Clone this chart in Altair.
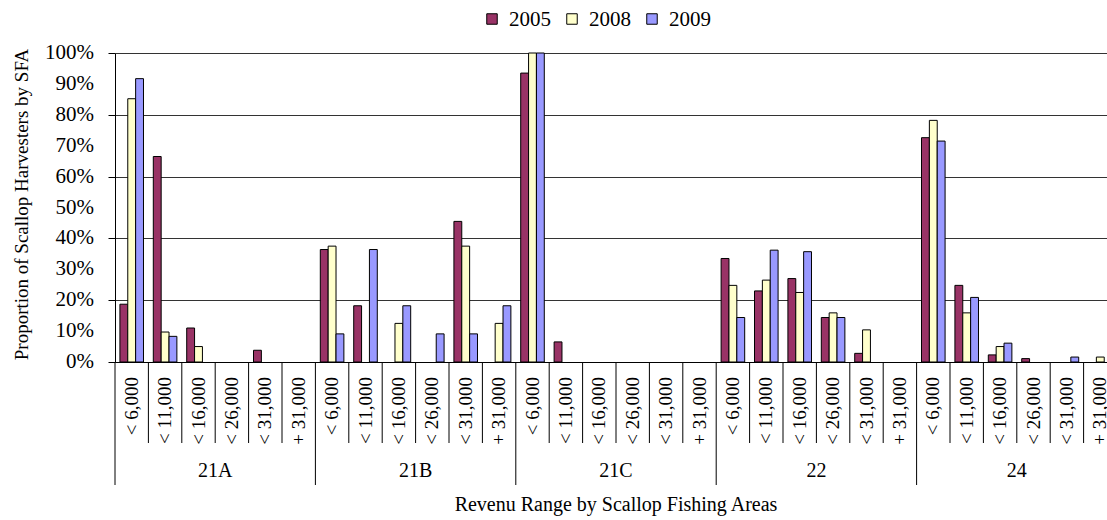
import altair as alt
import pandas as pd

groups = ["21A", "21B", "21C", "22", "24"]
ranges = ["< 6,000", "< 11,000", "< 16,000", "< 26,000", "< 31,000", "+ 31,000"]
years = ["2005", "2008", "2009"]
colors = ["#993366", "#FFFFCC", "#9999FF"]

# percentages per (group, range), group by group
p2005 = [18.7, 66.5, 11.0, 0, 3.8, 0,
         36.4, 18.2, 0, 0, 45.5, 0,
         93.5, 6.5, 0, 0, 0, 0,
         33.5, 23.0, 27.0, 14.4, 2.8, 0,
         72.6, 24.8, 2.3, 1.1, 0, 0]
p2008 = [85.2, 9.7, 5.0, 0, 0, 0,
         37.5, 0, 12.5, 0, 37.5, 12.5,
         100, 0, 0, 0, 0, 0,
         24.8, 26.5, 22.5, 15.9, 10.4, 0,
         78.2, 15.9, 5.0, 0, 0, 1.6]
p2009 = [91.7, 8.3, 0, 0, 0, 0,
         9.1, 36.4, 18.2, 9.1, 9.1, 18.2,
         100, 0, 0, 0, 0, 0,
         14.4, 36.2, 35.7, 14.4, 0, 0,
         71.5, 20.9, 6.1, 0, 1.6, 0]

y_ticks = [0, 0.1, 0.2, 0.3, 0.4, 0.5, 0.6, 0.7, 0.8, 0.9, 1.0]
y_tick_labels = ["0%", "10%", "20%", "30%", "40%", "50%", "60%", "70%", "80%", "90%", "100%"]
x_title = "Revenu Range by Scallop Fishing Areas"
y_title = "Proportion of Scallop Harvesters by SFA"

FONT = "Liberation Serif"
H = 309
W = 992

cats = [f"{g}|{r}" for g in groups for r in ranges]
rows = []
for year, vals in zip(years, [p2005, p2008, p2009]):
    for c, v in zip(cats, vals):
        rows.append({"cat": c, "year": year, "value": v / 100})
bars_df = pd.DataFrame(rows)
cat_df = pd.DataFrame({"cat": cats,
                       "range": [r for g in groups for r in ranges],
                       "start": [i % 6 == 0 for i in range(len(cats))]})
group_df = pd.DataFrame({"cat": [f"{g}|{ranges[3]}" for g in groups], "label": groups})
last_df = pd.DataFrame({"cat": [cats[-1]]})
title_df = pd.DataFrame({"t": [x_title]})
ytick_df = pd.DataFrame({"v": y_ticks, "lab": y_tick_labels})
legend_df = pd.DataFrame({"year": years})

x_scale = alt.Scale(domain=cats, range=[0, 1002], paddingInner=0, paddingOuter=0)
y_scale = alt.Scale(domain=[0, 1])
color_scale = alt.Scale(domain=years, range=colors)

bars = alt.Chart(bars_df).transform_filter("datum.value > 0").mark_bar(
    stroke="black", strokeWidth=1
).encode(
    x=alt.X("cat:N", sort=cats, scale=x_scale,
            axis=alt.Axis(title=None, labels=False, ticks=False,
                          domainColor="black", grid=False)),
    xOffset=alt.XOffset("year:N", sort=years,
                        scale=alt.Scale(domain=years, paddingOuter=0.625, paddingInner=0)),
    y=alt.Y("value:Q", scale=y_scale,
            axis=alt.Axis(values=y_ticks, labels=False, title=y_title,
                          tickSize=7, tickColor="black",
                          domainColor="black", grid=True, gridColor="#333333",
                          titleFont=FONT, titleFontSize=19, titleFontWeight="normal",
                          titleColor="black", titleX=-94, titleY=151,
                          titleAngle=270, titleAlign="center", titleBaseline="middle")),
    color=alt.Color("year:N", sort=years, scale=color_scale, legend=None),
)

x_labels = alt.Chart(cat_df).mark_text(
    font=FONT, fontSize=19, color="black", angle=270, align="right", baseline="middle"
).encode(
    x=alt.X("cat:N", sort=cats, scale=x_scale),
    y=alt.value(H + 15),
    text="range:N",
)

y_labels = alt.Chart(ytick_df).mark_text(
    font=FONT, fontSize=21, color="black", align="right", baseline="middle"
).encode(
    x=alt.value(-21),
    y=alt.Y("v:Q", scale=y_scale),
    text="lab:N",
)

short_rules = alt.Chart(cat_df).transform_filter("!datum.start").mark_rule(
    color="black", strokeWidth=1
).encode(
    x=alt.X("cat:N", sort=cats, scale=x_scale, bandPosition=0),
    y=alt.value(H), y2=alt.value(H + 81),
)

long_rules = alt.Chart(cat_df).transform_filter("datum.start").mark_rule(
    color="black", strokeWidth=1
).encode(
    x=alt.X("cat:N", sort=cats, scale=x_scale, bandPosition=0),
    y=alt.value(H), y2=alt.value(H + 123),
)

end_rule = alt.Chart(last_df).mark_rule(color="black", strokeWidth=1).encode(
    x=alt.X("cat:N", sort=cats, scale=x_scale, bandPosition=1),
    y=alt.value(H), y2=alt.value(H + 123),
)

group_text = alt.Chart(group_df).mark_text(
    font=FONT, fontSize=20, color="black", align="center", baseline="middle"
).encode(
    x=alt.X("cat:N", sort=cats, scale=x_scale, bandPosition=0),
    y=alt.value(H + 109),
    text="label:N",
)

title_text = alt.Chart(title_df).mark_text(
    font=FONT, fontSize=20, color="black", align="center", baseline="middle"
).encode(
    x=alt.value(501), y=alt.value(H + 143), text="t:N",
)

legend_base = alt.Chart(legend_df).transform_window(
    idx="row_number()"
).transform_calculate(
    sx="377 + (datum.idx - 1) * 80", tx="394 + (datum.idx - 1) * 80"
)

legend_sym = legend_base.mark_square(size=110, stroke="black", strokeWidth=1, opacity=1).encode(
    x=alt.X("sx:Q", scale=None),
    y=alt.value(-34),
    fill=alt.Fill("year:N", sort=years, scale=color_scale, legend=None),
)

legend_lab = legend_base.mark_text(
    font=FONT, fontSize=21, color="black", align="left", baseline="middle"
).encode(
    x=alt.X("tx:Q", scale=None),
    y=alt.value(-33),
    text="year:N",
)

chart = alt.layer(bars, short_rules, long_rules, end_rule, x_labels, y_labels,
                  group_text, title_text, legend_sym, legend_lab).properties(
    width=W, height=H,
    padding={"left": 115, "top": 53, "right": 0, "bottom": 158},
    autosize=alt.AutoSizeParams(type="none"),
).configure_view(stroke=None)

chart.save("out.html", embed_options={"renderer": "svg", "actions": False})
